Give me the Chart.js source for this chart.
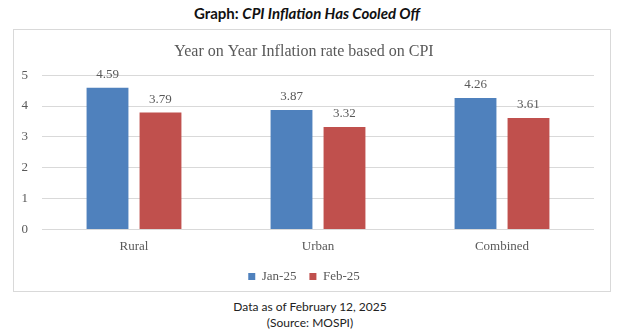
<!DOCTYPE html>
<html>
<head>
<meta charset="utf-8">
<script src="https://cdn.jsdelivr.net/npm/chart.js@4.4.1/dist/chart.umd.min.js"></script>
<style>
  html, body { margin: 0; padding: 0; background: #ffffff; }
  body { width: 620px; height: 332px; position: relative; overflow: hidden; font-family: Lato, "Liberation Sans", sans-serif; }
  #heading { position: absolute; left: 0; top: 4px; width: 614px; text-align: center; font-size: 15px; font-weight: bold; color: #111; }
  #heading i { font-style: italic; }
  #frame { position: absolute; left: 13px; top: 29px; width: 596px; height: 261px; border: 1px solid #d9d9d9; }
  #frame canvas { position: absolute; left: 0; top: 0; }
  .foot { position: absolute; left: 0; width: 620px; text-align: center; font-size: 12px; color: #222; }
</style>
</head>
<body>
<div id="heading">Graph: <i>CPI Inflation Has Cooled Off</i></div>
<div id="frame"><canvas id="cpi" width="596" height="261"></canvas></div>
<div class="foot" style="top:299px">Data as of February 12, 2025</div>
<div class="foot" style="top:315px">(Source: MOSPI)</div>
<script>
// Year-on-year CPI inflation (%), by segment
const categories = ["Rural", "Urban", "Combined"];
const jan25 = [4.59, 3.87, 4.26];
const feb25 = [3.79, 3.32, 3.61];
const seriesNames = ["Jan-25", "Feb-25"];
const yTicks = [0, 1, 2, 3, 4, 5];

const serif = "'Liberation Serif', 'DejaVu Serif', serif";
const grey = "#595959";

// Writes each bar's value just above it
const valueLabels = {
  id: "valueLabels",
  afterDatasetsDraw(chart) {
    const ctx = chart.ctx;
    ctx.save();
    ctx.font = "13px " + serif;
    ctx.fillStyle = grey;
    ctx.textAlign = "center";
    ctx.textBaseline = "middle";
    chart.data.datasets.forEach((ds, i) => {
      chart.getDatasetMeta(i).data.forEach((bar, j) => {
        ctx.fillText(ds.data[j].toFixed(2), bar.x, bar.y - 13);
      });
    });
    ctx.restore();
  }
};

// Nudges the legend row a touch lower
const legendNudge = {
  id: "legendNudge",
  afterLayout(chart) {
    const lg = chart.legend;
    if (lg) { lg.top += 2; lg.bottom += 2; }
  }
};

new Chart(document.getElementById("cpi"), {
  type: "bar",
  data: {
    labels: categories,
    datasets: [
      { label: seriesNames[0], data: jan25, backgroundColor: "#4F81BD", borderColor: "#4F81BD", borderWidth: 0 },
      { label: seriesNames[1], data: feb25, backgroundColor: "#C0504D", borderColor: "#C0504D", borderWidth: 0 }
    ]
  },
  options: {
    responsive: false,
    animation: false,
    devicePixelRatio: 1,
    datasets: { bar: { categoryPercentage: 0.576, barPercentage: 0.79 } },
    layout: { padding: { left: 0, right: 16, top: 8, bottom: 0 } },
    plugins: {
      title: {
        display: true,
        text: "Year on Year Inflation rate based on CPI",
        color: grey,
        font: { family: serif, size: 16, weight: "normal" },
        padding: { top: 4, bottom: 14 }
      },
      legend: {
        position: "bottom",
        labels: {
          boxWidth: 7, boxHeight: 7, color: grey, padding: 13,
          font: { family: serif, size: 13 }
        }
      },
      tooltip: { enabled: false }
    },
    scales: {
      x: {
        grid: { display: false },
        border: { display: false },
        ticks: { color: grey, font: { family: serif, size: 13 }, padding: 1 }
      },
      y: {
        min: yTicks[0],
        max: yTicks[yTicks.length - 1],
        afterBuildTicks(axis) { axis.ticks = yTicks.map(v => ({ value: v })); },
        afterFit(axis) { axis.width = 28; },
        grid: { color: "#d9d9d9", drawTicks: false, lineWidth: 1 },
        border: { display: false },
        ticks: { color: grey, font: { family: serif, size: 13 }, padding: 14 }
      }
    }
  },
  plugins: [valueLabels, legendNudge]
});
</script>
</body>
</html>
